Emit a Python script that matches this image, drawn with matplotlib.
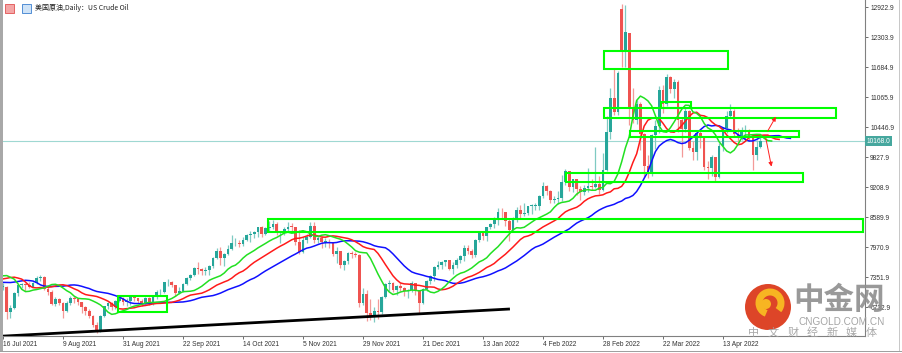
import numpy as np
import pandas as pd
import matplotlib
matplotlib.use("Agg")
import matplotlib.pyplot as plt
from matplotlib.patches import Rectangle, Circle, Arc
from matplotlib.transforms import IdentityTransform

plt.rcParams['font.family'] = ['Liberation Sans', 'Noto Sans CJK SC', 'DejaVu Sans']

# daily US crude bars in dollars, 1 Jun 2021 .. 27 Apr 2022
# (the first 33 bars, Jun 1 - Jul 15, only feed the Alligator)
WARMUP = 33
opens = [
    66.3, 67.7, 68.8, 68.8, 69.6, 69.2, 70.0, 70.0, 70.3, 70.9, 70.9, 72.1, 72.2, 71.0, 71.6, 73.7, 73.1, 73.1, 73.3, 74.1, 72.9, 73.0,
    73.5, 75.2, 75.2, 75.6, 73.4, 72.2, 72.9, 74.6, 74.1, 75.2, 73.1,
    71.6, 71.6, 66.4, 67.2, 70.3, 71.9, 72.0, 71.9, 71.6, 72.4, 73.4,
    73.6, 71.2, 70.5, 68.1, 69.0, 68.2, 66.5, 68.3, 69.2, 69.1, 68.4, 67.3, 66.6, 65.5, 63.7, 62.4, 65.6, 67.5, 68.3, 67.4, 68.7, 69.2,
    68.5, 68.6, 69.6, 69.3, 68.6, 68.3, 69.2, 68.1, 69.7, 70.4, 70.4, 72.5, 72.6, 71.9, 70.3, 70.6, 72.2, 73.3, 74.0, 75.4, 75.3, 74.8,
    75.0, 75.9, 77.6, 78.9, 77.4, 78.3, 79.3, 80.5, 80.6, 80.4, 81.3, 82.2, 82.4, 82.9, 83.8, 82.5, 83.7, 83.8, 84.6, 82.6, 82.8,
    83.5, 84.0, 83.9, 80.8, 78.8, 81.3, 81.9, 84.1, 81.3, 81.6, 80.8, 80.9, 80.7, 78.4, 79.0, 76.1, 76.8, 78.5, 78.4, 78.2, 68.2, 70.0,
    66.2, 65.6, 66.5, 66.3, 69.5, 72.1, 72.4, 70.9, 71.7, 71.3, 70.7, 70.9, 72.4, 70.9, 68.2, 71.1, 72.8, 73.8, 75.6, 76.0, 76.6, 77.0,
    75.2, 76.1, 77.0, 77.9, 79.5, 78.9, 78.2, 81.2, 82.6, 82.1, 83.8, 84.5, 85.4, 87.0, 86.9, 85.1, 83.3, 85.6, 87.4, 86.6, 86.8,
    88.2, 88.2, 88.3, 90.3, 92.3, 91.3, 89.4, 89.7, 89.9, 93.1, 95.5, 92.1, 93.7, 91.8, 91.1, 91.9, 92.4, 92.1, 92.8, 91.6,
    95.7, 103.4, 110.6, 107.7, 128.9, 120.4, 124.0, 108.7, 106.0, 109.3, 103.0, 96.4, 95.0, 102.9, 104.7, 112.1, 109.3, 114.9, 112.3, 113.9, 106.0, 104.2, 107.8,
    100.3, 99.3, 103.3, 102.3, 96.2, 96.0, 98.3, 94.3, 100.6, 104.3, 106.9, 107.8, 103.0, 102.6, 103.5, 103.8, 102.2, 98.8, 100.4,
]
highs = [
    68.0, 68.9, 69.4, 69.8, 70.0, 70.5, 70.5, 70.6, 71.2, 71.3, 72.3, 72.8, 72.2, 71.9, 73.9, 73.7, 74.3, 73.6, 74.2, 74.5, 73.4, 74.0,
    75.6, 75.8, 76.0, 76.9, 73.5, 73.3, 74.8, 74.9, 75.4, 75.3, 73.4,
    72.3, 71.7, 67.8, 70.4, 72.1, 72.4, 72.4, 72.6, 72.6, 73.8, 74.0,
    73.7, 71.6, 70.9, 69.4, 69.3, 68.4, 68.6, 69.6, 69.6, 69.2, 68.5, 67.7, 67.0, 65.7, 64.2, 65.8, 67.6, 68.5, 68.5, 68.9, 69.6, 69.4,
    69.2, 69.8, 69.9, 69.3, 69.0, 69.4, 69.5, 69.9, 70.8, 71.2, 72.6, 73.1, 72.8, 72.0, 71.6, 72.4, 73.6, 74.2, 75.7, 76.6, 75.4, 75.6,
    76.0, 77.8, 79.5, 79.8, 78.5, 80.2, 82.2, 81.6, 81.3, 81.8, 82.4, 83.0, 83.1, 83.9, 84.2, 84.0, 85.1, 85.4, 84.9, 83.0, 84.0,
    84.9, 84.8, 84.0, 83.3, 81.8, 82.5, 84.9, 84.9, 82.0, 82.0, 81.6, 81.4, 80.8, 79.7, 79.0, 77.0, 78.8, 79.0, 78.8, 78.3, 71.3, 70.8,
    69.1, 67.4, 69.1, 69.7, 72.4, 72.9, 72.6, 72.0, 72.4, 71.6, 71.2, 72.7, 72.4, 71.0, 71.4, 72.9, 73.9, 75.9, 76.9, 76.9, 77.1, 77.1,
    76.6, 77.6, 78.2, 80.2, 80.1, 79.4, 81.4, 83.0, 82.9, 84.0, 84.8, 86.0, 87.9, 87.9, 86.9, 85.7, 85.9, 88.0, 88.5, 88.8, 88.2,
    88.7, 88.8, 90.4, 93.2, 92.6, 91.5, 90.2, 91.3, 94.7, 95.8, 95.5, 93.8, 93.8, 92.4, 92.5, 96.0, 93.8, 100.5, 94.4, 99.1,
    106.8, 112.5, 116.6, 116.0, 129.9, 129.7, 124.0, 112.5, 110.0, 109.7, 103.3, 98.8, 103.0, 106.0, 112.9, 113.2, 115.4, 115.0, 114.5, 114.2, 106.3, 108.6, 108.0,
    101.6, 103.4, 104.2, 102.5, 97.6, 98.8, 98.4, 101.2, 104.5, 107.8, 109.2, 108.2, 104.3, 104.5, 105.0, 104.2, 102.4, 101.8, 102.4,
]
lows = [
    66.2, 67.0, 68.0, 68.5, 68.9, 68.7, 69.3, 69.3, 69.9, 70.2, 70.6, 71.2, 70.2, 70.6, 71.2, 72.7, 72.8, 72.6, 73.0, 72.8, 72.2, 72.6,
    73.2, 74.8, 75.0, 73.1, 71.1, 71.0, 72.6, 73.5, 73.7, 72.8, 70.8,
    70.9, 65.0, 65.2, 66.9, 69.7, 71.3, 70.6, 71.3, 71.5, 72.1, 72.8,
    70.9, 69.9, 67.8, 67.6, 67.9, 65.2, 66.3, 67.9, 68.3, 67.9, 66.1, 65.8, 65.1, 63.2, 62.0, 62.3, 65.4, 66.9, 66.8, 67.0, 68.4, 67.9,
    67.6, 67.9, 68.7, 68.2, 67.6, 68.1, 67.8, 67.9, 69.1, 69.6, 70.2, 71.7, 71.5, 69.7, 70.0, 70.4, 72.0, 72.9, 73.8, 74.1, 73.9, 74.0,
    74.0, 75.4, 77.3, 76.0, 75.9, 78.2, 79.2, 79.9, 79.7, 79.9, 81.1, 80.7, 81.6, 81.9, 81.9, 82.2, 82.8, 83.5, 82.3, 80.6, 82.3,
    82.8, 82.8, 80.2, 78.3, 78.6, 80.6, 81.7, 80.5, 80.6, 79.6, 79.7, 79.6, 78.0, 76.4, 75.5, 75.0, 76.2, 77.4, 77.8, 67.4, 67.8, 64.6,
    64.8, 64.2, 65.0, 66.0, 69.3, 70.7, 70.4, 69.8, 70.7, 69.6, 69.3, 70.5, 69.9, 66.1, 68.1, 70.7, 72.2, 72.8, 75.2, 75.2, 75.9, 75.0,
    74.3, 75.5, 76.4, 76.8, 78.4, 77.5, 77.7, 80.7, 81.2, 81.1, 83.5, 83.7, 84.4, 85.6, 84.2, 81.1, 83.0, 85.0, 85.7, 86.1, 86.4,
    86.5, 87.5, 87.4, 89.9, 90.6, 88.8, 88.9, 88.6, 89.3, 92.6, 91.3, 91.2, 90.5, 89.5, 90.5, 91.2, 91.6, 92.0, 90.7, 91.3,
    95.4, 102.0, 107.0, 107.0, 117.0, 117.0, 105.0, 105.3, 105.2, 99.8, 94.2, 94.0, 94.5, 100.0, 103.3, 107.5, 108.9, 111.5, 110.5, 103.5, 98.4, 103.6, 99.8,
    97.8, 97.8, 100.1, 95.7, 93.7, 94.5, 93.3, 94.0, 99.6, 103.2, 106.4, 102.4, 101.5, 101.8, 101.6, 101.6, 95.7, 97.8, 100.2,
]
closes = [
    67.7, 68.8, 68.8, 69.6, 69.2, 70.0, 70.0, 70.3, 70.9, 70.9, 72.1, 72.2, 71.0, 71.6, 73.7, 73.1, 73.1, 73.3, 74.1, 72.9, 73.0, 73.5,
    75.2, 75.2, 75.6, 73.4, 72.2, 72.9, 74.6, 74.1, 75.2, 73.1, 71.6,
    71.8, 66.4, 67.2, 70.3, 71.9, 72.0, 71.9, 71.6, 72.4, 73.4, 73.6,
    71.2, 70.5, 68.1, 69.0, 68.2, 66.5, 68.3, 69.2, 69.1, 68.4, 67.3, 66.6, 65.5, 63.7, 62.4, 65.6, 67.5, 68.3, 67.4, 68.7, 69.2, 68.5,
    68.6, 69.6, 69.3, 68.6, 68.3, 69.2, 68.1, 69.7, 70.4, 70.4, 72.5, 72.6, 71.9, 70.3, 70.6, 72.2, 73.3, 74.0, 75.4, 75.3, 74.8, 75.0,
    75.9, 77.6, 78.9, 77.4, 78.3, 79.3, 80.5, 80.6, 80.4, 81.3, 82.2, 82.4, 82.9, 83.8, 82.5, 83.7, 83.8, 84.6, 82.6, 82.8, 83.5,
    84.0, 83.9, 80.8, 78.8, 81.3, 81.9, 84.1, 81.3, 81.6, 80.8, 80.9, 80.7, 78.4, 79.0, 76.1, 76.8, 78.5, 78.4, 78.2, 68.2, 70.0, 66.2,
    65.6, 66.5, 66.3, 69.5, 72.1, 72.4, 70.9, 71.7, 71.3, 70.7, 70.9, 72.4, 70.9, 68.2, 71.1, 72.8, 73.8, 75.6, 76.0, 76.6, 77.0, 75.2,
    76.1, 77.0, 77.9, 79.5, 78.9, 78.2, 81.2, 82.6, 82.1, 83.8, 84.5, 85.4, 87.0, 86.9, 85.1, 83.3, 85.6, 87.4, 86.6, 86.8, 88.2,
    88.2, 88.3, 90.3, 92.3, 91.3, 89.4, 89.7, 89.9, 93.1, 95.5, 92.1, 93.7, 91.8, 91.1, 91.9, 92.4, 92.1, 92.8, 91.6, 95.7,
    103.4, 110.6, 107.7, 115.7, 120.4, 124.2, 108.7, 106.0, 109.3, 103.0, 96.4, 95.0, 102.9, 104.7, 112.1, 109.3, 114.9, 112.3, 113.9, 106.0, 104.2, 107.8, 100.3,
    99.3, 103.3, 102.3, 96.2, 96.0, 98.3, 94.3, 100.6, 104.3, 106.9, 107.8, 103.0, 102.6, 103.5, 103.8, 102.2, 98.8, 100.4, 101.7,
]

x_labels = ["16 Jul 2021", "9 Aug 2021", "31 Aug 2021", "22 Sep 2021", "14 Oct 2021",
            "5 Nov 2021", "29 Nov 2021", "21 Dec 2021", "13 Jan 2022", "4 Feb 2022",
            "28 Feb 2022", "22 Mar 2022", "13 Apr 2022"]
y_ticks = [6732.9, 7351.9, 7970.9, 8589.9, 9208.9, 9827.9, 10446.9,
           11065.9, 11684.9, 12303.9, 12922.9]
last_price = 10168.0

# hand drawn zones (bar from 16 Jul, price)
box_x0 = [30.7, 70.7, 150.1, 160.3, 160.3, 167.2, 175.5]
box_x1 = [43.7, 229.3, 213.3, 193.3, 222.1, 212.3, 183.5]
box_lo = [6636, 8287, 9318, 11650, 10649, 10257, 10851]
box_hi = [6966, 8555, 9498, 12027, 10845, 10371, 10969]
trend_x = [-0.8, 135.2]
trend_y = [6135, 6698]

SCALE = 100
o = np.array(opens) * SCALE
h = np.array(highs) * SCALE
l = np.array(lows) * SCALE
c = np.array(closes) * SCALE

dates = pd.bdate_range("2021-06-01", "2022-04-27")
dates = dates[dates != pd.Timestamp("2021-12-24")]
assert len(dates) == len(c)
x = np.arange(len(c)) - WARMUP


def smma(vals, n):
    out = np.full(len(vals), np.nan)
    out[n - 1] = vals[:n].mean()
    for i in range(n, len(vals)):
        out[i] = (out[i - 1] * (n - 1) + vals[i]) / n
    return out


# Alligator: jaw 13/8, teeth 8/5, lips 5/3 on median price
med = (h + l) / 2
jaw = smma(med, 13)
teeth = smma(med, 8)
lips = smma(med, 5)

W, H = 903, 353
fig = plt.figure(figsize=(W / 100, H / 100), dpi=100)
fig.patch.set_facecolor("white")
ax = fig.add_axes([0, 17 / H, 865 / W, 336 / H])

bull, bear = "#26a69a", "#ef5350"
up = c >= o
ax.vlines(x[up], l[up], h[up], color="#7fcac2", lw=0.9, zorder=2)
ax.vlines(x[~up], l[~up], h[~up], color="#f39a98", lw=0.9, zorder=2)
body = np.maximum(np.abs(c - o), 14)
ax.bar(x[up], body[up], bottom=np.minimum(o, c)[up], width=0.72, color=bull, zorder=3, lw=0)
ax.bar(x[~up], body[~up], bottom=np.minimum(o, c)[~up], width=0.72, color=bear, zorder=3, lw=0)

ax.plot(x + 8, jaw, color="#1010ff", lw=1.1, zorder=4)
ax.plot(x + 5, teeth, color="#ff1a1a", lw=1.1, zorder=4)
ax.plot(x + 3, lips, color="#22e022", lw=1.1, zorder=4)

ax.axhline(last_price, color="#9fd8d2", lw=0.8, zorder=1)

for x0, x1, lo, hi in zip(box_x0, box_x1, box_lo, box_hi):
    ax.add_patch(Rectangle((x0, lo), x1 - x0, hi - lo, fill=False,
                           ec="#00ff00", lw=1.5, zorder=5))

ax.plot(trend_x, trend_y, color="black", lw=2.0, zorder=5, solid_capstyle="butt")

ax.annotate("", xy=(206.5, 10715), xytext=(203.6, 10323),
            arrowprops=dict(arrowstyle="-|>", color="#ff2020", lw=0.7, mutation_scale=6), zorder=6)
ax.annotate("", xy=(205.1, 9580), xytext=(203.3, 10280),
            arrowprops=dict(arrowstyle="-|>", color="#ff2020", lw=0.7, mutation_scale=6), zorder=6)

ax.set_xlim(-0.8, 229.9)
ax.set_ylim(6140.8, 13073.5)

ax.yaxis.tick_right()
ax.set_yticks(y_ticks)
ax.set_yticklabels([f"{v:.1f}" for v in y_ticks])
tick_pos = [int(np.where(dates == pd.to_datetime(s, format="%d %b %Y"))[0][0]) - WARMUP
            for s in x_labels]
ax.set_xticks(tick_pos)
ax.set_xticklabels(x_labels)
for lab in ax.get_xticklabels():
    lab.set_ha("left")
ax.tick_params(axis="both", direction="out", length=2.5, width=0.6, color="#555555",
               labelsize=4.8, labelcolor="#333333", pad=1.2)
for s in ["top", "left"]:
    ax.spines[s].set_visible(False)
for s in ["right", "bottom"]:
    ax.spines[s].set_color("#808080")
    ax.spines[s].set_linewidth(0.8)

# price tag
fig.text(867 / W, 1 - 141 / H, f"{last_price:.1f}", fontsize=4.8, color="white",
         va="center", ha="left",
         bbox=dict(boxstyle="square,pad=0.25", fc="#46a79e", ec="none"))

# header
fig.text(35 / W, 1 - 8 / H, "美国原油,Daily：US Crude Oil", fontsize=5,
         family=["Noto Sans CJK SC", "DejaVu Sans"], va="center", color="#222222")
px = IdentityTransform()
fig.add_artist(Rectangle((5, H - 13), 9, 9, fc="#f4a6a6", ec="#e05050", lw=0.6, transform=px))
fig.add_artist(Rectangle((22, H - 13), 9, 9, fc="#cfe3f7", ec="#3b7fd0", lw=0.6, transform=px))

# window borders
fig.add_artist(Rectangle((0, 2), 2.5, H - 2, fc="#a8a8a8", ec="none", transform=px))
fig.add_artist(Rectangle((899, 2), 1, H - 2, fc="#c8c8c8", ec="none", transform=px))
fig.add_artist(Rectangle((0, 1.5), W, 0.8, fc="#a0a0a0", ec="none", transform=px))

# watermark
fig.add_artist(Circle((768, H - 307), 23, fc="#dc3b1c", ec="none", alpha=0.95, transform=px))
fig.add_artist(Arc((770, H - 303), 22, 22, theta1=-40, theta2=250, lw=5, color="#f7b522", transform=px))
fig.add_artist(Circle((766, H - 304), 5, fc="#f7b522", ec="none", transform=px))
fig.text(839 / W, 1 - 300 / H, "中金网", fontsize=22, fontweight="bold", color="#8e8e8e",
         family=["Noto Sans CJK SC", "DejaVu Sans"], ha="center", va="center", alpha=0.9)
fig.text(842 / W, 1 - 322 / H, "CNGOLD.COM.CN", fontsize=7.2, color="#9a9a9a",
         ha="center", va="center", alpha=0.9)
for i, ch in enumerate("中文财经新媒体"):
    fig.text((754 + 19.5 * i) / W, 1 - 333 / H, ch, fontsize=8, color="#a0a0a0",
             family=["Noto Sans CJK SC", "DejaVu Sans"], ha="center", va="center", alpha=0.9)

fig.savefig("out.png", dpi=100)
